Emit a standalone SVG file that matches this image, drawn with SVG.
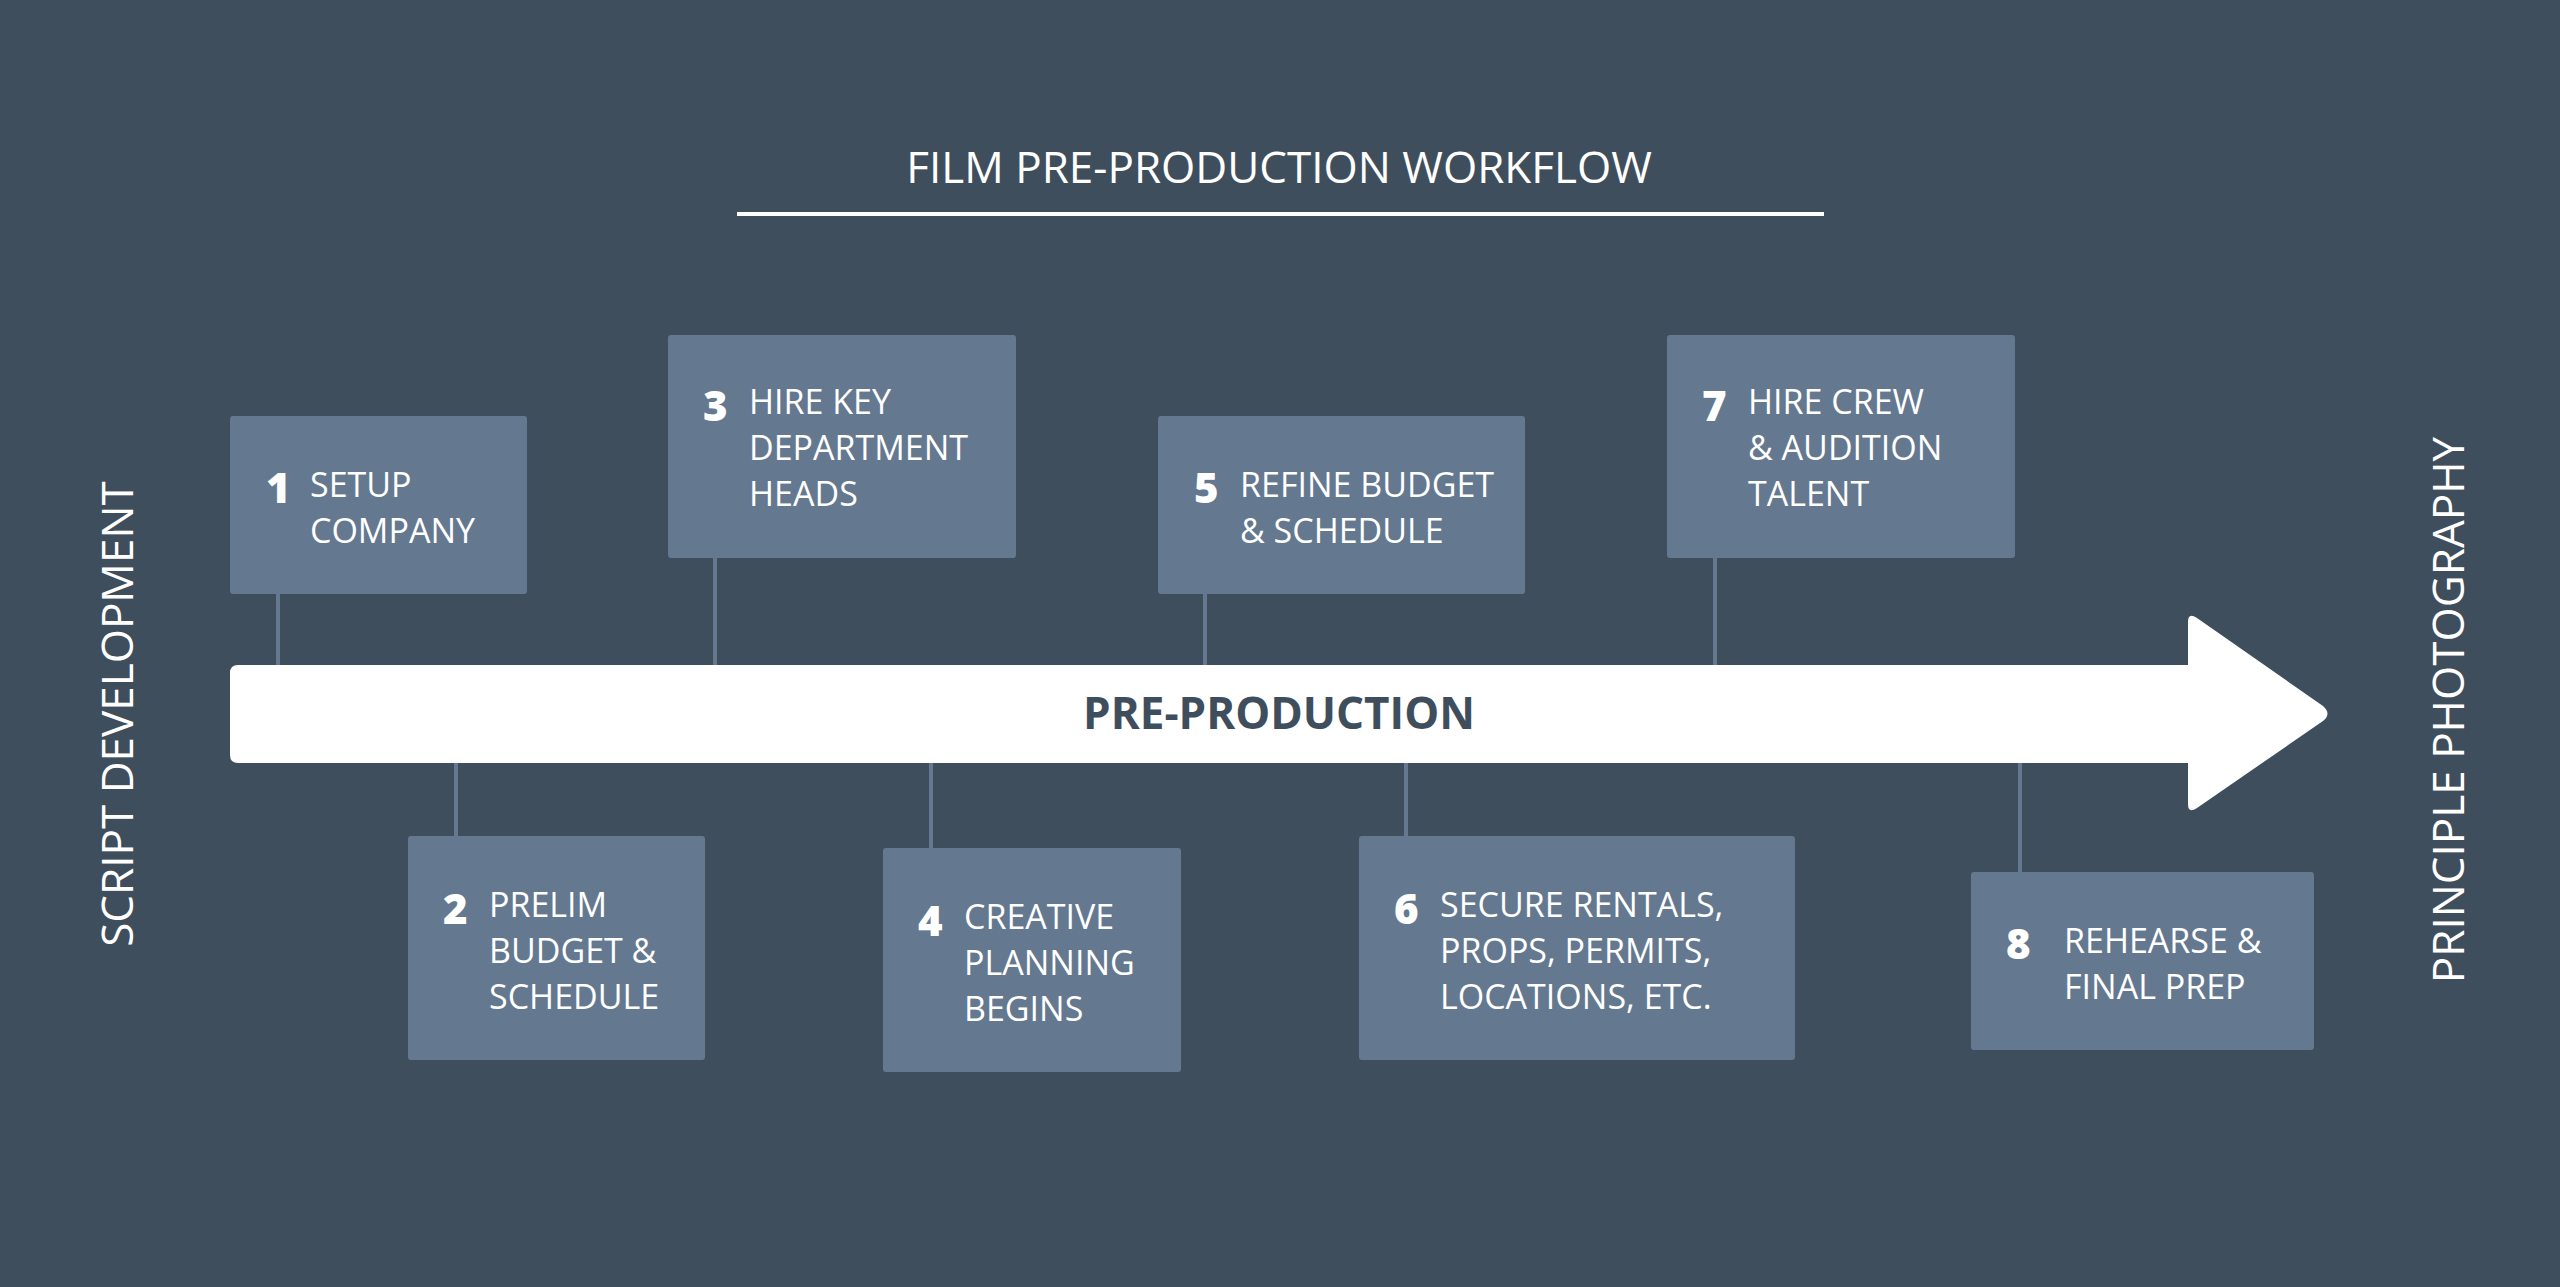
<svg xmlns="http://www.w3.org/2000/svg" width="2560" height="1287" viewBox="0 0 2560 1287">
<style>
.box{fill:#64788f;rx:3px}
.t{font-family:"Open Sans",sans-serif;font-size:34px;fill:#fff}
.n{font-family:"Open Sans",sans-serif;font-size:42px;font-weight:800;fill:#fff}
.c line{stroke:#64788f;stroke-width:4}
.side{font-family:"Open Sans",sans-serif;font-size:44px;fill:#fff;text-anchor:middle}
</style>
<rect width="2560" height="1287" fill="#3f4e5c"/>
<text x="1279" y="183" class="side" style="font-size:44px">FILM PRE-PRODUCTION WORKFLOW</text>
<line x1="737" y1="214" x2="1824" y2="214" stroke="#fff" stroke-width="4"/>
<text transform="translate(133,714) rotate(-90)" class="side">SCRIPT DEVELOPMENT</text>
<text transform="translate(2464,710) rotate(-90)" class="side">PRINCIPLE PHOTOGRAPHY</text>
<g class="c">
<line x1="278" y1="594" x2="278" y2="665"/>
<line x1="715" y1="558" x2="715" y2="665"/>
<line x1="1205" y1="594" x2="1205" y2="665"/>
<line x1="1715" y1="558" x2="1715" y2="665"/>
<line x1="456" y1="763" x2="456" y2="836"/>
<line x1="931" y1="763" x2="931" y2="848"/>
<line x1="1406" y1="763" x2="1406" y2="836"/>
<line x1="2020" y1="763" x2="2020" y2="872"/>
</g>
<g id="arrow">
<path d="M238,665 H2188 V622 Q2188,612 2197,618 L2323,706 Q2332,714 2323,721 L2197,808 Q2188,814 2188,804 V763 H238 Q230,763 230,755 V673 Q230,665 238,665 Z" fill="#fff"/>
<text x="1279" y="729" text-anchor="middle" font-family="'Open Sans',sans-serif" font-size="44" font-weight="700" fill="#3f4e5c">PRE-PRODUCTION</text>
</g>
<g id="n1"><rect class="box" x="230" y="416" width="297" height="178"/><text class="n" x="266" y="503">1</text><text class="t" x="310" y="497">SETUP</text><text class="t" x="310" y="543">COMPANY</text></g>
<g id="n3"><rect class="box" x="668" y="335" width="348" height="223"/><text class="n" x="703" y="421">3</text><text class="t" x="749" y="414">HIRE KEY</text><text class="t" x="749" y="460">DEPARTMENT</text><text class="t" x="749" y="506">HEADS</text></g>
<g id="n5"><rect class="box" x="1158" y="416" width="367" height="178"/><text class="n" x="1194" y="503">5</text><text class="t" x="1240" y="497">REFINE BUDGET</text><text class="t" x="1240" y="543">&amp; SCHEDULE</text></g>
<g id="n7"><rect class="box" x="1667" y="335" width="348" height="223"/><text class="n" x="1702" y="421">7</text><text class="t" x="1748" y="414">HIRE CREW</text><text class="t" x="1748" y="460">&amp; AUDITION</text><text class="t" x="1748" y="506">TALENT</text></g>
<g id="n2"><rect class="box" x="408" y="836" width="297" height="224"/><text class="n" x="443" y="924">2</text><text class="t" x="489" y="917">PRELIM</text><text class="t" x="489" y="963">BUDGET &amp;</text><text class="t" x="489" y="1009">SCHEDULE</text></g>
<g id="n4"><rect class="box" x="883" y="848" width="298" height="224"/><text class="n" x="918" y="936">4</text><text class="t" x="964" y="929">CREATIVE</text><text class="t" x="964" y="975">PLANNING</text><text class="t" x="964" y="1021">BEGINS</text></g>
<g id="n6"><rect class="box" x="1359" y="836" width="436" height="224"/><text class="n" x="1394" y="924">6</text><text class="t" x="1440" y="917">SECURE RENTALS,</text><text class="t" x="1440" y="963">PROPS, PERMITS,</text><text class="t" x="1440" y="1009">LOCATIONS, ETC.</text></g>
<g id="n8"><rect class="box" x="1971" y="872" width="343" height="178"/><text class="n" x="2006" y="959">8</text><text class="t" x="2064" y="953">REHEARSE &amp;</text><text class="t" x="2064" y="999">FINAL PREP</text></g>
</svg>
